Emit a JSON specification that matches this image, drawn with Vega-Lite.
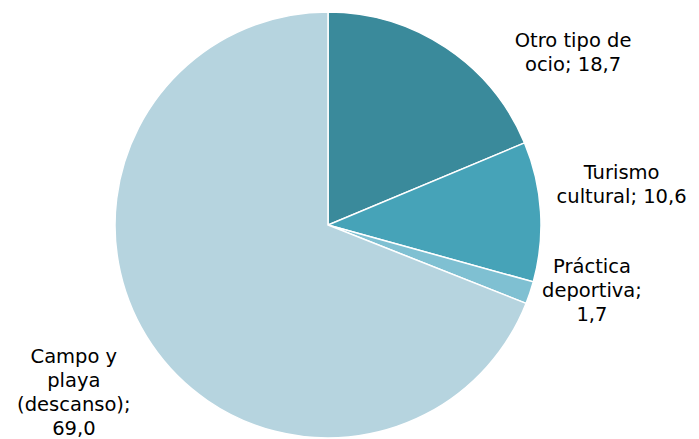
{
  "$schema": "https://vega.github.io/schema/vega-lite/v6.json",
  "width": 656,
  "height": 428,
  "autosize": "none",
  "padding": {"left": 0, "right": 43, "top": 11, "bottom": 0},
  "background": "white",
  "config": {"view": {"stroke": null}},
  "data": {
    "values": [
      {"categoria": "Otro tipo de ocio", "valor": 18.7, "orden": 1, "etiqueta": "Otro tipo de\nocio; 18,7"},
      {"categoria": "Turismo cultural", "valor": 10.6, "orden": 2, "etiqueta": "Turismo\ncultural; 10,6"},
      {"categoria": "Práctica deportiva", "valor": 1.7, "orden": 3, "etiqueta": "Práctica\ndeportiva;\n1,7"},
      {"categoria": "Campo y playa (descanso)", "valor": 69.0, "orden": 4, "etiqueta": "Campo y\nplaya\n(descanso);\n69,0"}
    ]
  },
  "encoding": {
    "theta": {"field": "valor", "type": "quantitative", "stack": true},
    "order": {"field": "orden", "type": "quantitative"}
  },
  "layer": [
    {
      "mark": {"type": "arc", "outerRadius": 213, "stroke": "white", "strokeWidth": 1.5},
      "encoding": {
        "color": {
          "field": "categoria",
          "type": "nominal",
          "legend": null,
          "scale": {
            "domain": ["Otro tipo de ocio", "Turismo cultural", "Práctica deportiva", "Campo y playa (descanso)"],
            "range": ["#3a8a9b", "#46a3b8", "#7fc0d2", "#b6d4df"]
          }
        }
      }
    },
    {
      "mark": {"type": "text", "radius": 213, "dx": 127, "dy": -7, "align": "center", "baseline": "middle", "font": "DejaVu Sans", "fontSize": 19.5, "lineHeight": 24, "lineBreak": "\n", "color": "black"},
      "encoding": {"text": {"condition": {"test": "datum.orden == 1", "field": "etiqueta"}, "value": ""}}
    },
    {
      "mark": {"type": "text", "radius": 213, "dx": 81, "dy": -38.6, "align": "center", "baseline": "middle", "font": "DejaVu Sans", "fontSize": 19.5, "lineHeight": 24, "lineBreak": "\n", "color": "black"},
      "encoding": {"text": {"condition": {"test": "datum.orden == 2", "field": "etiqueta"}, "value": ""}}
    },
    {
      "mark": {"type": "text", "radius": 213, "dx": 62, "dy": -26, "align": "center", "baseline": "middle", "font": "DejaVu Sans", "fontSize": 19.5, "lineHeight": 24, "lineBreak": "\n", "color": "black"},
      "encoding": {"text": {"condition": {"test": "datum.orden == 3", "field": "etiqueta"}, "value": ""}}
    },
    {
      "mark": {"type": "text", "radius": 213, "dx": -78, "dy": 12.6, "align": "center", "baseline": "middle", "font": "DejaVu Sans", "fontSize": 19.5, "lineHeight": 24, "lineBreak": "\n", "color": "black"},
      "encoding": {"text": {"condition": {"test": "datum.orden == 4", "field": "etiqueta"}, "value": ""}}
    }
  ]
}
